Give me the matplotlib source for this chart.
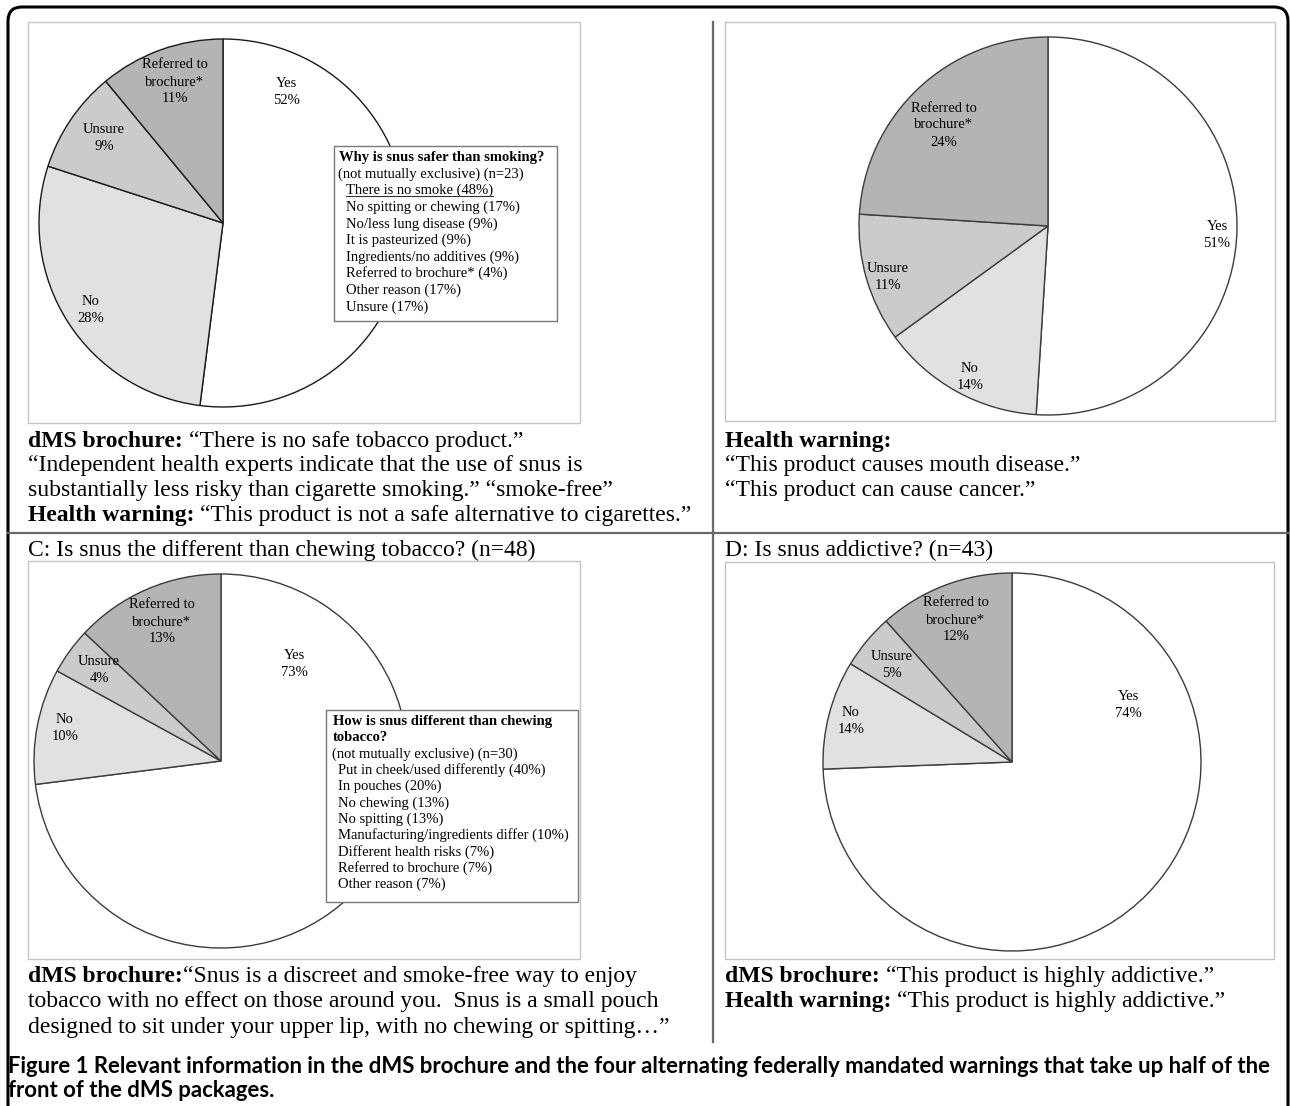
import matplotlib
matplotlib.use('Agg')
import matplotlib.pyplot as plt
from matplotlib import font_manager
from matplotlib.patches import Rectangle, FancyBboxPatch

W, H = 1290, 1106
SERIF = 'Liberation Serif'
installed = {f.name for f in font_manager.fontManager.ttflist}
SANS = [f for f in ['Lato', 'Liberation Sans'] if f in installed][:1] or ['DejaVu Sans']

# ---- data ----
slices = ['Yes', 'No', 'Unsure', 'Referred to\nbrochure*']
a_pct = [52, 28, 9, 11]
b_pct = [51, 14, 11, 24]
c_pct = [73, 10, 4, 13]
d_pct = [74, 14, 5, 12]
# wedge sizes of D as drawn in the figure (the printed labels add up to 105)
d_drawn = [74.4, 9.3, 4.7, 11.6]

reasons_a = ['There is no smoke', 'No spitting or chewing', 'No/less lung disease',
             'It is pasteurized', 'Ingredients/no additives', 'Referred to brochure*',
             'Other reason', 'Unsure']
reasons_a_pct = [48, 17, 9, 9, 9, 4, 17, 17]
reasons_c = ['Put in cheek/used differently', 'In pouches', 'No chewing', 'No spitting',
             'Manufacturing/ingredients differ', 'Different health risks',
             'Referred to brochure', 'Other reason']
reasons_c_pct = [40, 20, 13, 13, 10, 7, 7, 7]

title_c = 'C: Is snus the different than chewing tobacco? (n=48)'
title_d = 'D: Is snus addictive? (n=43)'

notes_a = [[('dMS brochure:', 'bold'), (' “There is no safe tobacco product.”', 'normal')],
           [('“Independent health experts indicate that the use of snus is', 'normal')],
           [('substantially less risky than cigarette smoking.” “smoke-free”', 'normal')],
           [('Health warning:', 'bold'), (' “This product is not a safe alternative to cigarettes.”', 'normal')]]
notes_b = [[('Health warning:', 'bold')],
           [('“This product causes mouth disease.”', 'normal')],
           [('“This product can cause cancer.”', 'normal')]]
notes_c = [[('dMS brochure:', 'bold'), ('“Snus is a discreet and smoke-free way to enjoy', 'normal')],
           [('tobacco with no effect on those around you.  Snus is a small pouch', 'normal')],
           [('designed to sit under your upper lip, with no chewing or spitting…”', 'normal')]]
notes_d = [[('dMS brochure:', 'bold'), (' “This product is highly addictive.”', 'normal')],
           [('Health warning:', 'bold'), (' “This product is highly addictive.”', 'normal')]]

caption = ['Figure 1 Relevant information in the dMS brochure and the four alternating federally mandated warnings that take up half of the',
           'front of the dMS packages.']

# ---- layout (pixels, y from top) ----
colors = ['white', '#e1e1e1', '#cbcbcb', '#b4b4b4']
pies = [  # sizes, labels, center, radius, label positions, edge colour
    (a_pct, a_pct, (223, 223), 184, [(286, 92), (91, 310), (104, 138), (175, 82)], '#1a1a1a'),
    (b_pct, b_pct, (1048, 226), 189, [(1217, 235), (970, 377), (888, 277), (944, 125)], '#3c3c3c'),
    (c_pct, c_pct, (221, 761), 187, [(294, 664), (65, 728), (99, 670), (162, 622)], '#3c3c3c'),
    (d_drawn, d_pct, (1012, 762), 189, [(1128, 705), (851, 721), (892, 665), (956, 620)], '#3c3c3c'),
]
chart_boxes = [(28, 22, 580, 423), (725, 22, 1275, 421), (28, 561, 580, 959), (725, 562, 1274, 959)]


def Y(py):
    return H - py


fig = plt.figure(figsize=(W / 100, H / 100), dpi=100)
ax = fig.add_axes([0, 0, 1, 1])

for sizes, pct, (cx, cy), r, lpos, ec in pies:
    ax.pie(sizes, colors=colors, startangle=90, counterclock=False,
           center=(cx, Y(cy)), radius=r,
           wedgeprops=dict(edgecolor=ec, linewidth=1.0))
    for name, p, (lx, ly) in zip(slices, pct, lpos):
        ax.text(lx, Y(ly), f'{name}\n{p}%', ha='center', va='center',
                family=SERIF, fontsize=10.5, linespacing=1.4, zorder=5)

ax.set_xlim(0, W)
ax.set_ylim(0, H)
ax.set_aspect('auto')
ax.axis('off')

for x0, y0, x1, y1 in chart_boxes:
    ax.add_patch(Rectangle((x0, Y(y1)), x1 - x0, y1 - y0, fill=False,
                           ec='#c4c4c4', lw=1.0, zorder=2))

# outer frame and dividers
ax.add_patch(FancyBboxPatch((8, Y(1130)), 1280, 1123,
                            boxstyle='round,pad=0,rounding_size=14',
                            fc='none', ec='black', lw=2.2, zorder=6))
ax.plot([8, 1288], [Y(533), Y(533)], color='#6a6a6a', lw=1.6, zorder=6)
ax.plot([713, 713], [Y(22), Y(1042)], color='#6a6a6a', lw=1.6, zorder=6)

renderer = fig.canvas.get_renderer()


def text_width(s, size, weight='normal', family=SERIF):
    t = ax.text(0, 0, s, fontsize=size, weight=weight, family=family)
    w = t.get_window_extent(renderer).width
    t.remove()
    return w


def rich(x, y, parts, size=17):
    sp = text_width('a a', size) - text_width('aa', size)
    for txt, wt in parts:
        if txt.startswith(' '):
            x += sp
            txt = txt.lstrip(' ')
        t = ax.text(x, Y(y), txt, family=SERIF, fontsize=size, weight=wt,
                    va='baseline', ha='left', zorder=5)
        x = t.get_window_extent(renderer).x1


def notes(x, y0, lines, step=24.5):
    for i, parts in enumerate(lines):
        rich(x, y0 + i * step, parts)


notes(28, 447, notes_a)
notes(725, 447, notes_b)
notes(28, 982, notes_c, step=25.5)
notes(725, 982, notes_d, step=25.5)
rich(28, 556, [(title_c, 'normal')])
rich(725, 556, [(title_d, 'normal')])

# inset boxes
ax.add_patch(Rectangle((334, Y(321)), 223, 175, fc='white', ec='#7a7a7a', lw=1.0, zorder=4))
ax.add_patch(Rectangle((326, Y(902)), 252, 192, fc='white', ec='#7a7a7a', lw=1.0, zorder=4))

fs_in = 10.5
step_in = 16.6
ax.text(339, Y(161), 'Why is snus safer than smoking?', family=SERIF, fontsize=fs_in,
        weight='bold', va='baseline', zorder=5)
ax.text(338, Y(161 + step_in), '(not mutually exclusive) (n=23)', family=SERIF,
        fontsize=fs_in, va='baseline', zorder=5)
for i, (name, p) in enumerate(zip(reasons_a, reasons_a_pct)):
    yy = Y(161 + (i + 2) * step_in)
    t = ax.text(346, yy, f'{name} ({p}%)', family=SERIF, fontsize=fs_in,
                va='baseline', zorder=5)
    if i == 0:
        bb = t.get_window_extent(renderer)
        ax.plot([bb.x0, bb.x1], [yy - 2, yy - 2], color='#333333', lw=0.8, zorder=5)

ax.text(333, Y(725), 'How is snus different than chewing', family=SERIF, fontsize=fs_in,
        weight='bold', va='baseline', zorder=5)
ax.text(333, Y(725 + 16.3), 'tobacco?', family=SERIF, fontsize=fs_in,
        weight='bold', va='baseline', zorder=5)
ax.text(332, Y(725 + 2 * 16.3), '(not mutually exclusive) (n=30)', family=SERIF,
        fontsize=fs_in, va='baseline', zorder=5)
for i, (name, p) in enumerate(zip(reasons_c, reasons_c_pct)):
    ax.text(338, Y(725 + (i + 3) * 16.3), f'{name} ({p}%)', family=SERIF, fontsize=fs_in,
            va='baseline', zorder=5)

# caption: first line fills the frame width like the justified original
fs_cap = min(17, 14 * 1270 / text_width(caption[0], 14, 'bold', SANS))
ax.text(8, Y(1073), caption[0], family=SANS, weight='bold', fontsize=fs_cap,
        va='baseline', zorder=5)
ax.text(8, Y(1097), caption[1], family=SANS, weight='bold', fontsize=fs_cap,
        va='baseline', zorder=5)

fig.savefig('out.png', dpi=100)
